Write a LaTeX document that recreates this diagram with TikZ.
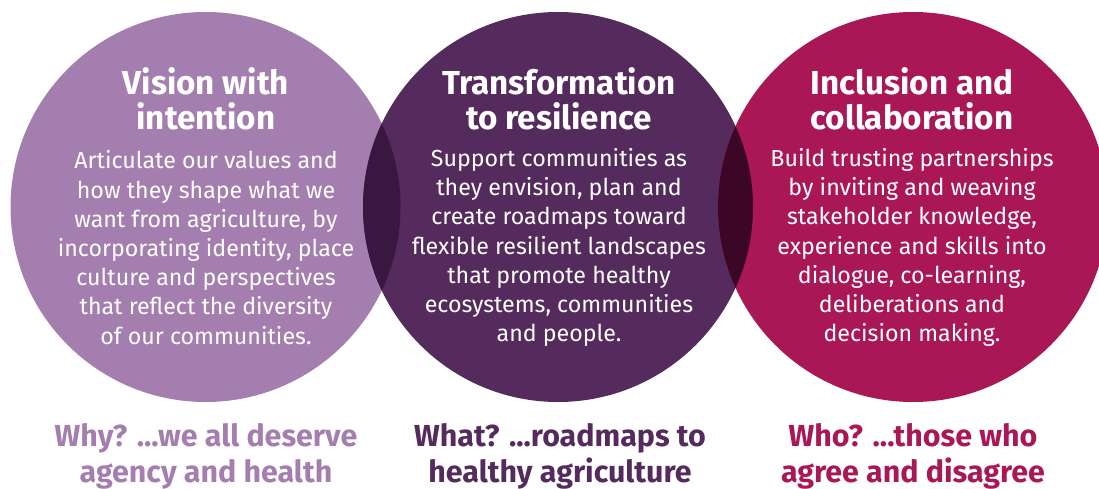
\documentclass[tikz,border=0pt]{standalone}
\usepackage{fontspec}
\setmainfont{Fira Sans}
\definecolor{cl}{HTML}{A57EB0}
\definecolor{cm}{HTML}{552A5C}
\definecolor{cr}{HTML}{A91756}
\definecolor{olm}{HTML}{3A1741}
\definecolor{omr}{HTML}{3C0726}
\tikzset{
  disc/.style={circle, inner sep=0pt, minimum size=390pt},
  head/.style={text=white, align=center, font=\fontsize{33.2}{35}\selectfont\bfseries},
  body/.style={text=white, align=center, font=\fontsize{23.2}{29.2}\selectfont},
  foot/.style={align=center, font=\fontsize{30.4}{36}\selectfont\bfseries},
}
\begin{document}
\begin{tikzpicture}[x=1pt,y=-1pt]
\useasboundingbox (0,0) rectangle (1099,489);
\clip (0,0) rectangle (1099,489);
\node[disc, fill=cl] (cL) at (205.5,207) {};
\node[disc, fill=cm] (cM) at (558,207) {};
\node[disc, fill=cr] (cR) at (913,207) {};
\begin{scope}
  \clip (205.5,207) circle (195pt);
  \fill[olm] (558,207) circle (195pt);
\end{scope}
\begin{scope}
  \clip (558,207) circle (195pt);
  \fill[omr] (913,207) circle (195pt);
\end{scope}
\node[head] (hL) at (206,98.5) {Vision with\\intention};
\node[head] (hM) at (559,98.5) {Transformation\\to resilience};
\node[head] (hR) at (912,98.5) {Inclusion and\\collaboration};
\node[body] (bL) at (206,247.5) {Articulate our values and\\how they shape what we\\want from agriculture, by\\incorporating identity, place\\culture and perspectives\\that reflect the diversity\\of our communities.};
\node[body] (bM) at (559,247.5) {Support communities as\\they envision, plan and\\create roadmaps toward\\flexible resilient landscapes\\that promote healthy\\ecosystems, communities\\and people.};
\node[body] (bR) at (912,247.5) {Build trusting partnerships\\by inviting and weaving\\stakeholder knowledge,\\experience and skills into\\dialogue, co-learning,\\deliberations and\\decision making.};
\node[foot, text=cl] (fL) at (206,456) {Why? ...we all deserve\\agency and health};
\node[foot, text=cm] (fM) at (560,456) {What? ...roadmaps to\\healthy agriculture};
\node[foot, text=cr] (fR) at (913,456) {Who? ...those who\\agree and disagree};
\end{tikzpicture}
\end{document}
